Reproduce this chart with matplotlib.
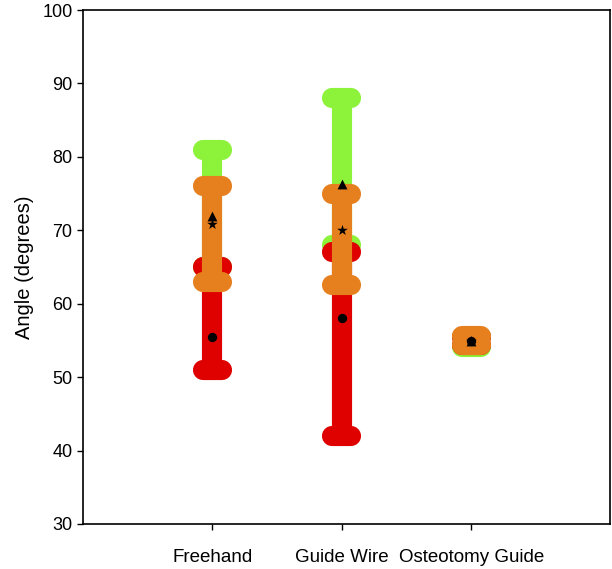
import matplotlib.pyplot as plt

plt.rcParams['font.family'] = ['Liberation Sans', 'DejaVu Sans']

groups = ["Freehand", "Guide Wire", "Osteotomy Guide"]
xpos = [1, 2, 3]

# ranges (low, high) per series
green_lo = [65, 68, 54.1]
green_hi = [81, 88, 55.5]
red_lo = [51, 42, 54.4]
red_hi = [65, 67, 55.5]
orange_lo = [63, 62.5, 54.4]
orange_hi = [76, 75, 55.6]

# mean markers
green_mean = [72, 76.3, 54.9]
orange_mean = [70.8, 70, 54.9]
red_mean = [55.5, 58, 54.9]

col_green = '#8df23a'
col_red = '#df0000'
col_orange = '#e6801f'

fig = plt.figure(figsize=(6.12, 5.69), dpi=100)
ax = fig.add_axes([0.1356, 0.0791, 0.8611, 0.9033])

lw = 14.5
cap_half = 0.073


def draw_range(x, lo, hi, color, z):
    ax.plot([x, x], [lo, hi], color=color, lw=lw, solid_capstyle='butt', zorder=z)
    for v in (lo, hi):
        ax.plot([x - cap_half, x + cap_half], [v, v], color=color, lw=lw,
                solid_capstyle='round', zorder=z)


for i, x in enumerate(xpos):
    draw_range(x, green_lo[i], green_hi[i], col_green, 2)
    draw_range(x, red_lo[i], red_hi[i], col_red, 3)
    draw_range(x, orange_lo[i], orange_hi[i], col_orange, 4)

ax.scatter(xpos, green_mean, marker='^', s=50, color='black', zorder=5, linewidths=0)
ax.scatter(xpos, orange_mean, marker='*', s=65, color='black', zorder=5, linewidths=0)
ax.scatter(xpos, red_mean, marker='o', s=45, color='black', zorder=5, linewidths=0)

ax.set_xlim(0, 4.07)
ax.set_ylim(30, 100)
ax.set_xticks(xpos)
ax.set_xticklabels(groups, fontsize=13.5)
ax.set_yticks(range(30, 101, 10))
ax.tick_params(axis='y', labelsize=13, length=4, width=1)
ax.tick_params(axis='x', length=4, width=1, pad=14)
ax.set_ylabel("Angle (degrees)", fontsize=14.5, labelpad=6)
for s in ax.spines.values():
    s.set_linewidth(1.2)

fig.savefig('out.png', dpi=100)
